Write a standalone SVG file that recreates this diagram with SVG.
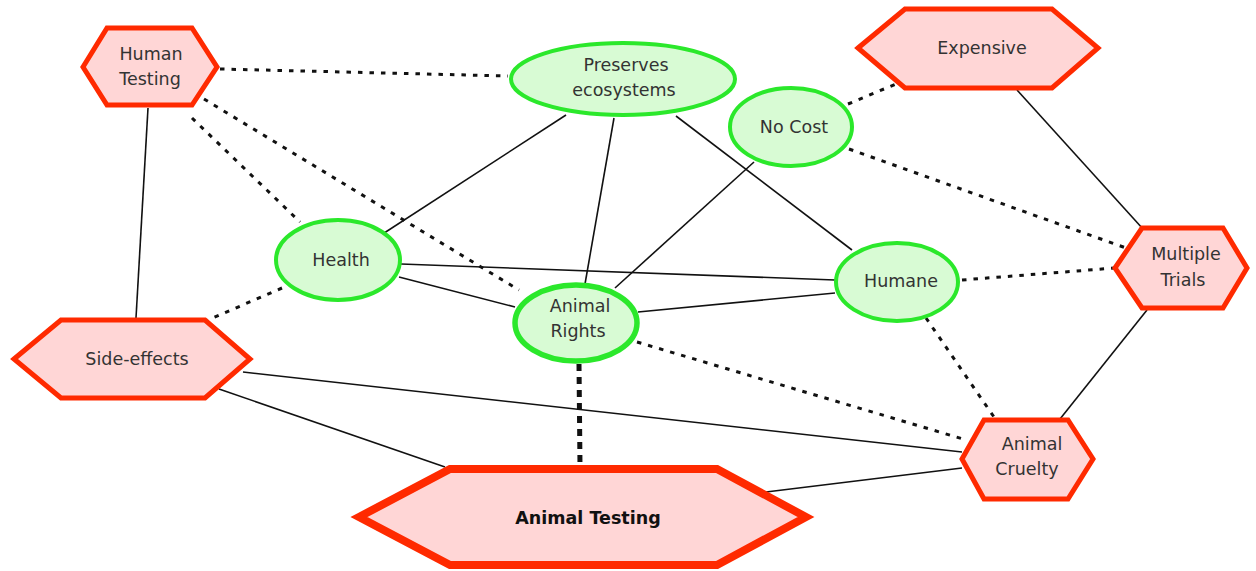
<svg xmlns="http://www.w3.org/2000/svg" width="1256" height="571" viewBox="0 0 1256 571">
  <style>
    .hex { fill: #ffd6d6; stroke: #ff2a00; stroke-width: 5; stroke-linejoin: miter; }
    .hex-main { stroke-width: 8; }
    .ell { fill: #d8fbd4; stroke: #2be82b; stroke-width: 4; }
    .ell-main { stroke-width: 5.5; }
    .lbl { font-family: "DejaVu Sans", Verdana, sans-serif; font-size: 17.5px; fill: #333; text-anchor: middle; }
    .lbl-main { font-weight: bold; font-size: 17.5px; fill: #111; }
    .solid { stroke: #111; stroke-width: 1.6; fill: none; }
    .dot { stroke: #111; stroke-width: 3; stroke-dasharray: 4.5 7; fill: none; }
    .dot-main { stroke-width: 5; stroke-dasharray: 7 6; }
  </style>

  <rect width="1256" height="571" fill="#ffffff"/>

  <g id="connectors">
    <!-- solid links -->
    <line class="solid" x1="148" y1="108" x2="136" y2="318"/>
    <line class="solid" x1="566" y1="115" x2="378" y2="237"/>
    <line class="solid" x1="614" y1="118" x2="585" y2="284"/>
    <line class="solid" x1="676" y1="116" x2="852" y2="250"/>
    <line class="solid" x1="754" y1="162" x2="615" y2="288"/>
    <line class="solid" x1="401" y1="264" x2="835" y2="280"/>
    <line class="solid" x1="399" y1="277" x2="515" y2="307"/>
    <line class="solid" x1="638" y1="312" x2="835" y2="293"/>
    <line class="solid" x1="1017" y1="90" x2="1143" y2="229"/>
    <line class="solid" x1="1147" y1="310" x2="1060" y2="419"/>
    <line class="solid" x1="243" y1="372" x2="962" y2="452"/>
    <line class="solid" x1="219" y1="389" x2="445" y2="467"/>
    <line class="solid" x1="766" y1="492" x2="962" y2="468"/>
    <!-- dotted links -->
    <line class="dot" x1="220" y1="69" x2="508" y2="76"/>
    <line class="dot" x1="192" y1="118" x2="300" y2="222"/>
    <line class="dot" x1="204" y1="99" x2="519" y2="290"/>
    <line class="dot" x1="282" y1="288" x2="208" y2="320"/>
    <line class="dot" x1="848" y1="104" x2="896" y2="84"/>
    <line class="dot" x1="849" y1="149" x2="1126" y2="248"/>
    <line class="dot" x1="962" y1="280" x2="1115" y2="268"/>
    <line class="dot" x1="926" y1="318" x2="994" y2="417"/>
    <line class="dot" x1="637" y1="342" x2="963" y2="439"/>
    <line class="dot dot-main" x1="579" y1="364" x2="580" y2="466"/>
  </g>

  <g id="human-testing">
    <polygon class="hex" points="83,67 107,28 192,28 217,67 192,105 107,105"/>
    <text class="lbl" x="151" y="60">Human</text>
    <text class="lbl" x="150" y="85">Testing</text>
  </g>

  <g id="preserves-ecosystems">
    <ellipse class="ell" cx="623" cy="79" rx="112" ry="36"/>
    <text class="lbl" x="626" y="71">Preserves</text>
    <text class="lbl" x="624" y="96">ecosystems</text>
  </g>

  <g id="expensive">
    <polygon class="hex" points="858,48 905,9 1052,9 1098,48 1052,88 905,88"/>
    <text class="lbl" x="982" y="54">Expensive</text>
  </g>

  <g id="no-cost">
    <ellipse class="ell" cx="791" cy="127" rx="61" ry="39"/>
    <text class="lbl" x="794" y="133">No Cost</text>
  </g>

  <g id="health">
    <ellipse class="ell" cx="338" cy="260" rx="62" ry="40"/>
    <text class="lbl" x="341" y="266">Health</text>
  </g>

  <g id="humane">
    <ellipse class="ell" cx="897" cy="282" rx="61" ry="39"/>
    <text class="lbl" x="901" y="287">Humane</text>
  </g>

  <g id="multiple-trials">
    <polygon class="hex" points="1115,268 1142,228 1223,228 1247,268 1223,308 1142,308"/>
    <text class="lbl" x="1186" y="260">Multiple</text>
    <text class="lbl" x="1183" y="286">Trials</text>
  </g>

  <g id="side-effects">
    <polygon class="hex" points="14,359 61,320 205,320 250,359 205,398 61,398"/>
    <text class="lbl" x="137" y="365">Side-effects</text>
  </g>

  <g id="animal-rights">
    <ellipse class="ell ell-main" cx="576" cy="323" rx="61" ry="38"/>
    <text class="lbl" x="580" y="312">Animal</text>
    <text class="lbl" x="578" y="337">Rights</text>
  </g>

  <g id="animal-cruelty">
    <polygon class="hex" points="962,459 984,420 1068,420 1093,459 1068,499 984,499"/>
    <text class="lbl" x="1032" y="450">Animal</text>
    <text class="lbl" x="1027" y="475">Cruelty</text>
  </g>

  <g id="animal-testing">
    <polygon class="hex hex-main" points="359,517 450,469 717,469 806,517 717,565 450,565"/>
    <text class="lbl lbl-main" x="588" y="524">Animal Testing</text>
  </g>
</svg>
